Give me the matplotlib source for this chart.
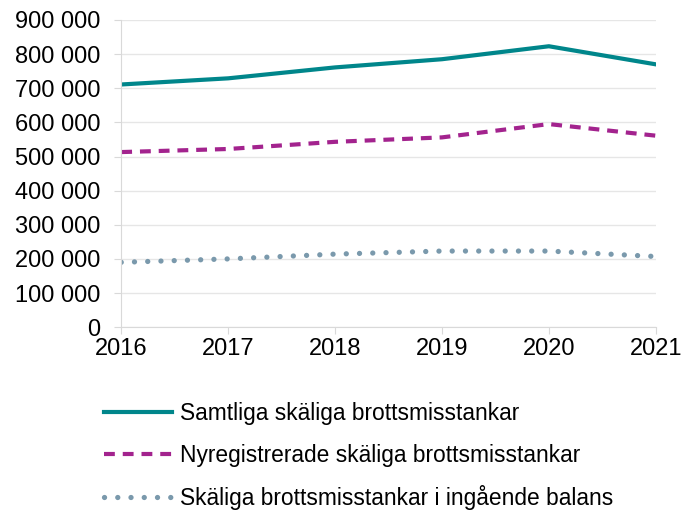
import matplotlib
matplotlib.use("Agg")
import matplotlib.pyplot as plt
from matplotlib.ticker import FuncFormatter

years = [2016, 2017, 2018, 2019, 2020, 2021]
samtliga = [711000, 729000, 761000, 785000, 823000, 770000]
nyregistrerade = [513000, 522000, 543000, 556000, 595000, 561000]
ingaende = [190000, 200000, 214000, 223000, 223000, 207000]

labels = ["Samtliga skäliga brottsmisstankar",
          "Nyregistrerade skäliga brottsmisstankar",
          "Skäliga brottsmisstankar i ingående balans"]

plt.rcParams['font.family'] = ['Liberation Sans', 'DejaVu Sans']

fig = plt.figure(figsize=(6.81, 5.12), dpi=100)
ax = fig.add_axes([0.178, 0.361, 0.785, 0.6])

ax.plot(years, samtliga, color='#00868B', lw=3, label=labels[0])
ax.plot(years, nyregistrerade, color='#A3238E', lw=3, dashes=(2.6, 1.9), label=labels[1])
ax.plot(years, ingaende, color='#7A99AC', lw=3.8, dashes=(0.01, 2.5), dash_capstyle='round',
        label=labels[2])

ax.set_xlim(2016, 2021)
ax.set_ylim(0, 900000)
ax.set_yticks(range(0, 900001, 100000))
ax.set_xticks(years)
ax.yaxis.set_major_formatter(FuncFormatter(lambda v, p: f"{int(v):,}".replace(",", " ")))

ax.grid(axis='y', color='#E6E6E6', lw=1)
ax.set_axisbelow(True)
for s in ['top', 'right']:
    ax.spines[s].set_visible(False)
ax.spines['left'].set_color('#D9D9D9')
ax.spines['bottom'].set_color('#D9D9D9')
ax.tick_params(axis='y', length=5, color='#D9D9D9', labelsize=17, pad=10)
ax.tick_params(axis='x', length=5, color='#D9D9D9', labelsize=17, pad=3)

fig.legend(loc='upper left', bbox_to_anchor=(0.139, 0.232), frameon=False,
           fontsize=16.4, handlelength=3.0, handletextpad=0.35, labelspacing=0.8,
           borderaxespad=0)

fig.savefig("out.png", dpi=100)
